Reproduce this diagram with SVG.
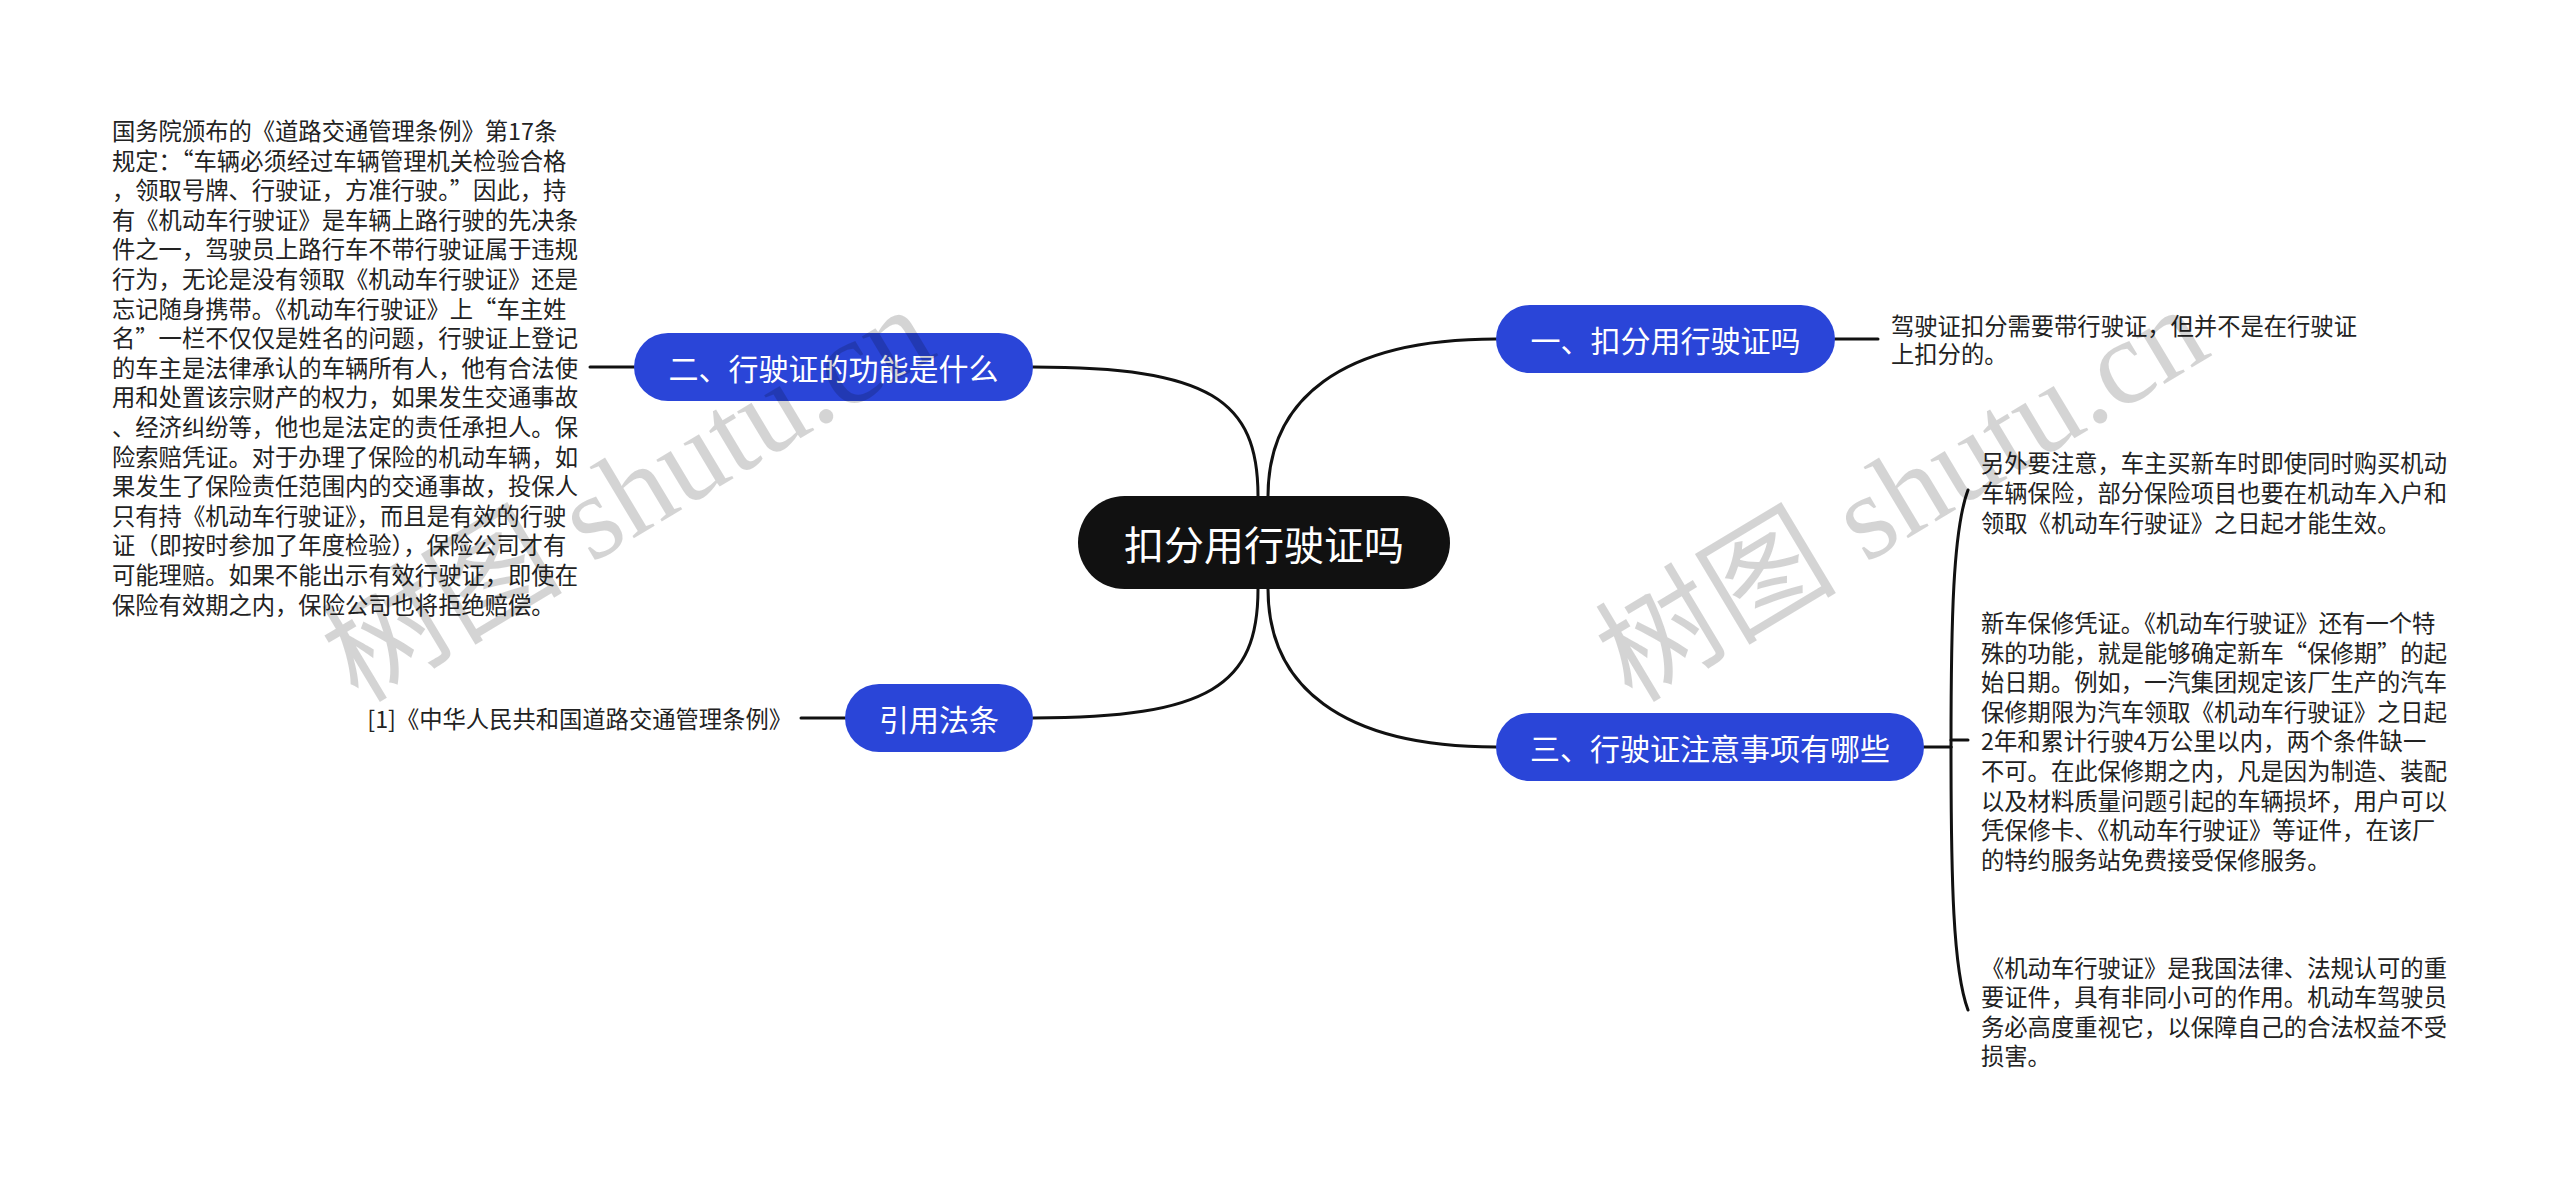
<svg xmlns="http://www.w3.org/2000/svg" width="2560" height="1181" viewBox="0 0 2560 1181">
<style>
.bg{fill:#ffffff}
.conn{fill:none;stroke:#111;stroke-width:3;stroke-linecap:round}
.root{fill:#111111}
.branch{fill:#2a45d8}
.rootText{font-family:"Noto Sans CJK SC","Noto Sans",sans-serif;font-size:40px;fill:#fff;text-anchor:middle;dominant-baseline:central}
.branchText{font-family:"Noto Sans CJK SC","Noto Sans",sans-serif;font-size:30px;fill:#fff;text-anchor:middle;dominant-baseline:central}
.leaf{font-family:"Noto Sans CJK SC","Noto Sans",sans-serif;font-size:23.3px;fill:#222;dominant-baseline:central}
.wm{font-family:"Liberation Serif","Noto Sans CJK SC",serif;font-size:121px;fill:#000;fill-opacity:0.17}
</style>
<rect class="bg" x="0" y="0" width="2560" height="1181"/>
<g id="connectors">
<path class="conn" d="M1258 496 C1258 400 1210 367 1033 367"/>
<path class="conn" d="M1258 589 C1258 685 1210 718 1033 718"/>
<path class="conn" d="M1268 496 C1268 400 1340 339 1496 339"/>
<path class="conn" d="M1268 589 C1268 685 1340 747 1496 747"/>
<path class="conn" d="M590 367 L634 367"/>
<path class="conn" d="M801 718 L845 718"/>
<path class="conn" d="M1835 339 L1878 339"/>
<path class="conn" d="M1924 747 L1951 747"/>
<path class="conn" d="M1951 747 C1951 620 1953 530 1968 490"/>
<path class="conn" d="M1951 747 C1951 880 1953 970 1968 1010"/>
<path class="conn" d="M1951 740 L1968 740"/>
</g>
<g id="root">
<rect class="root" x="1078" y="496" width="372" height="93" rx="46.5"/>
<text class="rootText" x="1264" y="542.5">扣分用行驶证吗</text>
</g>
<g id="node-er">
<rect class="branch" x="634" y="333" width="399" height="68" rx="34"/>
<text class="branchText" x="833.5" y="367">二、行驶证的功能是什么</text>
</g>
<g id="node-yinyong">
<rect class="branch" x="845" y="684" width="188" height="68" rx="34"/>
<text class="branchText" x="939" y="718">引用法条</text>
</g>
<g id="node-yi">
<rect class="branch" x="1496" y="305" width="339" height="68" rx="34"/>
<text class="branchText" x="1665.5" y="339">一、扣分用行驶证吗</text>
</g>
<g id="node-san">
<rect class="branch" x="1496" y="713" width="428" height="68" rx="34"/>
<text class="branchText" x="1710" y="747">三、行驶证注意事项有哪些</text>
</g>
<g id="leaf-er">
<text class="leaf" x="112">
<tspan x="112" y="130">国务院颁布的《道路交通管理条例》第17条</tspan>
<tspan x="112" y="159.6">规定：“车辆必须经过车辆管理机关检验合格</tspan>
<tspan x="112" y="189.2">，领取号牌、行驶证，方准行驶。”因此，持</tspan>
<tspan x="112" y="218.8">有《机动车行驶证》是车辆上路行驶的先决条</tspan>
<tspan x="112" y="248.4">件之一，驾驶员上路行车不带行驶证属于违规</tspan>
<tspan x="112" y="278">行为，无论是没有领取《机动车行驶证》还是</tspan>
<tspan x="112" y="307.6">忘记随身携带。《机动车行驶证》上“车主姓</tspan>
<tspan x="112" y="337.2">名”一栏不仅仅是姓名的问题，行驶证上登记</tspan>
<tspan x="112" y="366.8">的车主是法律承认的车辆所有人，他有合法使</tspan>
<tspan x="112" y="396.4">用和处置该宗财产的权力，如果发生交通事故</tspan>
<tspan x="112" y="426">、经济纠纷等，他也是法定的责任承担人。保</tspan>
<tspan x="112" y="455.6">险索赔凭证。对于办理了保险的机动车辆，如</tspan>
<tspan x="112" y="485.2">果发生了保险责任范围内的交通事故，投保人</tspan>
<tspan x="112" y="514.8">只有持《机动车行驶证》，而且是有效的行驶</tspan>
<tspan x="112" y="544.4">证（即按时参加了年度检验），保险公司才有</tspan>
<tspan x="112" y="574">可能理赔。如果不能出示有效行驶证，即使在</tspan>
<tspan x="112" y="603.6">保险有效期之内，保险公司也将拒绝赔偿。</tspan>
</text>
</g>
<g id="leaf-yinyong">
<text class="leaf" x="792" y="718" text-anchor="end">[1]《中华人民共和国道路交通管理条例》</text>
</g>
<g id="leaf-yi">
<text class="leaf">
<tspan x="1891" y="325">驾驶证扣分需要带行驶证，但并不是在行驶证</tspan>
<tspan x="1891" y="353">上扣分的。</tspan>
</text>
</g>
<g id="leaf-san-1">
<text class="leaf">
<tspan x="1981" y="462.4">另外要注意，车主买新车时即使同时购买机动</tspan>
<tspan x="1981" y="492">车辆保险，部分保险项目也要在机动车入户和</tspan>
<tspan x="1981" y="521.6">领取《机动车行驶证》之日起才能生效。</tspan>
</text>
</g>
<g id="leaf-san-2">
<text class="leaf">
<tspan x="1981" y="622">新车保修凭证。《机动车行驶证》还有一个特</tspan>
<tspan x="1981" y="651.6">殊的功能，就是能够确定新车“保修期”的起</tspan>
<tspan x="1981" y="681.2">始日期。例如，一汽集团规定该厂生产的汽车</tspan>
<tspan x="1981" y="710.8">保修期限为汽车领取《机动车行驶证》之日起</tspan>
<tspan x="1981" y="740.4">2年和累计行驶4万公里以内，两个条件缺一</tspan>
<tspan x="1981" y="770">不可。在此保修期之内，凡是因为制造、装配</tspan>
<tspan x="1981" y="799.6">以及材料质量问题引起的车辆损坏，用户可以</tspan>
<tspan x="1981" y="829.2">凭保修卡、《机动车行驶证》等证件，在该厂</tspan>
<tspan x="1981" y="858.8">的特约服务站免费接受保修服务。</tspan>
</text>
</g>
<g id="leaf-san-3">
<text class="leaf">
<tspan x="1981" y="966.6">《机动车行驶证》是我国法律、法规认可的重</tspan>
<tspan x="1981" y="996.2">要证件，具有非同小可的作用。机动车驾驶员</tspan>
<tspan x="1981" y="1025.8">务必高度重视它，以保障自己的合法权益不受</tspan>
<tspan x="1981" y="1055.4">损害。</tspan>
</text>
</g>
<g id="watermarks">
<text class="wm" transform="translate(1632 704) rotate(-31)">树图 shutu.cn</text>
<text class="wm" transform="translate(358 704) rotate(-31)">树图 shutu.cn</text>
</g>
</svg>
